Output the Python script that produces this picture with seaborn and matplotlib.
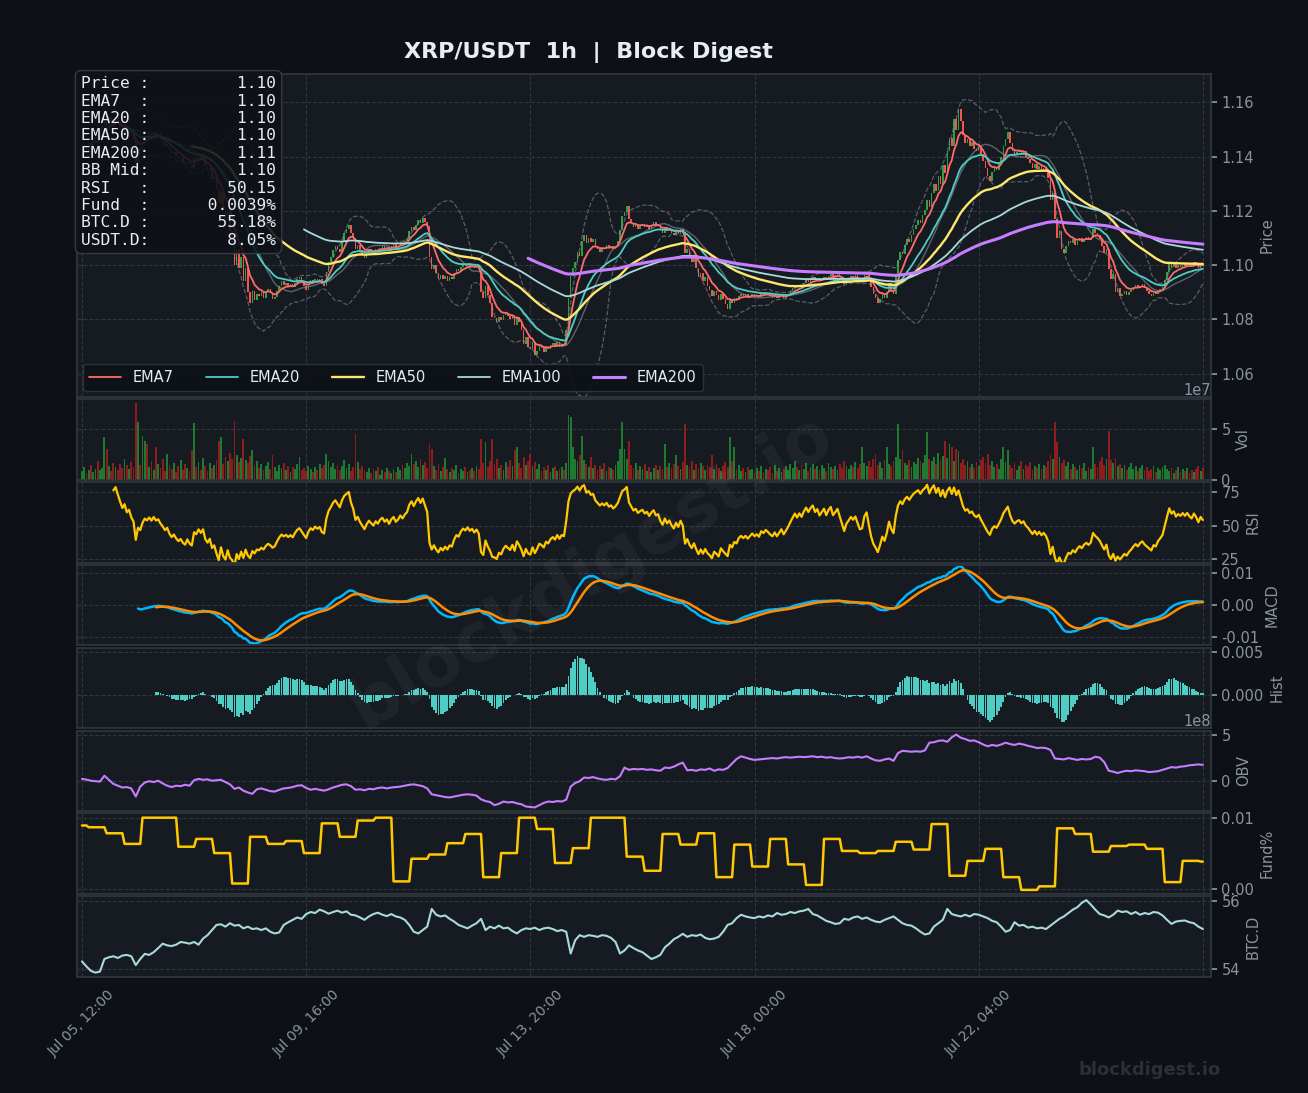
import numpy as np
import pandas as pd
import matplotlib
matplotlib.use("Agg")
import matplotlib.pyplot as plt
import seaborn as sns

# ---- values: XRP/USDT, 1h bars starting Jul 05 12:00 ----
start_time = "2024-07-05 12:00"

close_px = [
    1.1420, 1.1435, 1.1420, 1.1450, 1.1438, 1.1458, 1.1480, 1.1462, 1.1490, 1.1512, 1.1530, 1.1515, 1.1545, 1.1530, 1.1520, 1.1546, 1.1528, 1.1510, 1.1492, 1.1512, 1.1488, 1.1500, 1.1476, 1.1462, 1.1380,
    1.1432, 1.1420, 1.1455, 1.1478, 1.1470, 1.1485, 1.1472, 1.1490, 1.1476, 1.1482, 1.1466, 1.1455, 1.1440, 1.1448, 1.1425, 1.1410, 1.1418, 1.1402, 1.1390, 1.1396, 1.1380, 1.1372, 1.1385, 1.1368, 1.1360,
    1.1395, 1.1388, 1.1402, 1.1390, 1.1400, 1.1365, 1.1350, 1.1360, 1.1318, 1.1325, 1.1280, 1.1230, 1.1270, 1.1200, 1.1165, 1.1200, 1.1125, 1.1095, 1.1000, 1.1060, 1.0990, 1.1030, 1.0940, 1.0990, 1.0900,
    1.0860, 1.0905, 1.0870, 1.0895, 1.0885, 1.0900, 1.0880, 1.0900, 1.0912, 1.0898, 1.0875, 1.0882, 1.0905, 1.0925, 1.0940, 1.0928, 1.0935, 1.0922, 1.0930, 1.0918, 1.0935, 1.0948, 1.0955, 1.0940, 1.0925,
    1.0910, 1.0932, 1.0945, 1.0938, 1.0950, 1.0942, 1.0948, 1.0930, 1.0925, 1.0975, 1.1010, 1.1030, 1.1055, 1.1070, 1.1060, 1.1050, 1.1090, 1.1120, 1.1135, 1.1150, 1.1120, 1.1100, 1.1060, 1.1075, 1.1055,
    1.1040, 1.1025, 1.1045, 1.1060, 1.1050, 1.1042, 1.1058, 1.1050, 1.1065, 1.1072, 1.1060, 1.1068, 1.1055, 1.1070, 1.1078, 1.1065, 1.1072, 1.1085, 1.1078, 1.1090, 1.1098, 1.1125, 1.1140, 1.1130, 1.1150,
    1.1165, 1.1155, 1.1175, 1.1160, 1.1145, 1.1030, 1.0985, 1.1000, 1.0970, 1.0950, 1.0965, 1.0948, 1.0960, 1.0942, 1.0955, 1.0948, 1.0970, 1.0985, 1.0978, 1.0995, 1.1005, 1.0998, 1.1008, 1.0996, 1.1002,
    1.0990, 1.0998, 1.0985, 1.0900, 1.0880, 1.0925, 1.0890, 1.0860, 1.0810, 1.0805, 1.0790, 1.0810, 1.0798, 1.0815, 1.0825, 1.0812, 1.0800, 1.0815, 1.0780, 1.0810, 1.0790, 1.0760, 1.0710, 1.0735, 1.0700,
    1.0690, 1.0715, 1.0670, 1.0685, 1.0705, 1.0695, 1.0680, 1.0700, 1.0690, 1.0705, 1.0712, 1.0700, 1.0715, 1.0698, 1.0710, 1.0705, 1.0760, 1.0880, 1.0960, 1.0990, 1.1010, 1.1050, 1.1035, 1.1090, 1.1110,
    1.1080, 1.1100, 1.1085, 1.1095, 1.1070, 1.1060, 1.1050, 1.1065, 1.1058, 1.1075, 1.1062, 1.1070, 1.1060, 1.1072, 1.1090, 1.1130, 1.1180, 1.1195, 1.1220, 1.1170, 1.1155, 1.1140, 1.1150, 1.1135, 1.1145,
    1.1152, 1.1140, 1.1148, 1.1135, 1.1150, 1.1160, 1.1145, 1.1150, 1.1130, 1.1118, 1.1140, 1.1125, 1.1135, 1.1120, 1.1110, 1.1128, 1.1115, 1.1135, 1.1120, 1.1045, 1.1060, 1.1030, 1.1010, 1.1025, 1.0990,
    1.0955, 1.0970, 1.0940, 1.0955, 1.0925, 1.0910, 1.0885, 1.0905, 1.0890, 1.0870, 1.0895, 1.0875, 1.0858, 1.0840, 1.0875, 1.0860, 1.0878, 1.0870, 1.0888, 1.0895, 1.0885, 1.0892, 1.0880, 1.0888, 1.0895,
    1.0885, 1.0890, 1.0882, 1.0896, 1.0890, 1.0898, 1.0892, 1.0885, 1.0880, 1.0888, 1.0878, 1.0885, 1.0892, 1.0880, 1.0887, 1.0895, 1.0905, 1.0915, 1.0925, 1.0918, 1.0928, 1.0922, 1.0935, 1.0945, 1.0938,
    1.0948, 1.0955, 1.0945, 1.0952, 1.0942, 1.0950, 1.0958, 1.0948, 1.0960, 1.0968, 1.0955, 1.0962, 1.0970, 1.0958, 1.0945, 1.0930, 1.0945, 1.0952, 1.0960, 1.0955, 1.0962, 1.0950, 1.0938, 1.0940, 1.0965,
    1.0975, 1.0950, 1.0920, 1.0895, 1.0880, 1.0860, 1.0875, 1.0895, 1.0880, 1.0900, 1.0935, 1.0910, 1.0895, 1.0960, 1.1020, 1.1050, 1.1040, 1.1075, 1.1095, 1.1085, 1.1110, 1.1135, 1.1150, 1.1165, 1.1155,
    1.1185, 1.1205, 1.1240, 1.1215, 1.1265, 1.1300, 1.1275, 1.1330, 1.1300, 1.1370, 1.1340, 1.1420, 1.1470, 1.1440, 1.1540, 1.1500, 1.1575, 1.1530, 1.1480, 1.1450, 1.1465, 1.1440, 1.1455, 1.1430, 1.1420,
    1.1438, 1.1410, 1.1385, 1.1360, 1.1330, 1.1310, 1.1345, 1.1360, 1.1350, 1.1375, 1.1400, 1.1440, 1.1465, 1.1490, 1.1450, 1.1420, 1.1405, 1.1418, 1.1425, 1.1410, 1.1420, 1.1400, 1.1390, 1.1375, 1.1360,
    1.1372, 1.1355, 1.1365, 1.1350, 1.1358, 1.1345, 1.1320, 1.1240, 1.1265, 1.1170, 1.1100, 1.1125, 1.1060, 1.1045, 1.1070, 1.1090, 1.1080, 1.1095, 1.1075, 1.1090, 1.1100, 1.1085, 1.1098, 1.1105, 1.1092,
    1.1100, 1.1135, 1.1120, 1.1110, 1.1095, 1.1070, 1.1045, 1.1060, 1.0985, 1.0950, 1.0968, 1.0900, 1.0915, 1.0885, 1.0895, 1.0905, 1.0890, 1.0902, 1.0910, 1.0920, 1.0928, 1.0915, 1.0925, 1.0930, 1.0915,
    1.0905, 1.0895, 1.0885, 1.0898, 1.0892, 1.0905, 1.0912, 1.0920, 1.0945, 1.0975, 1.1010, 1.0995, 1.1005, 1.0990, 1.1000, 1.0995, 1.1005, 1.0998, 1.1008, 1.1000, 1.0995, 1.1010, 1.1002, 1.0990, 1.1005,
    1.0998,
]

# hourly volume, millions of XRP
vol_m = [
    8, 12, 6, 9, 14, 7, 10, 18, 9, 11, 42, 30, 13, 8, 16, 12, 9, 15, 11, 20, 14, 10, 17, 12, 75,
    56, 14, 43, 38, 35, 12, 18, 9, 32, 15, 11, 20, 8, 25, 14, 10, 16, 7, 13, 19, 9, 15, 11, 8, 29,
    55, 12, 17, 9, 21, 13, 8, 16, 11, 14, 19, 38, 42, 15, 22, 18, 26, 20, 57, 24, 17, 21, 40, 19, 16,
    23, 29, 14, 18, 11, 15, 9, 13, 17, 10, 24, 12, 8, 14, 11, 16, 9, 13, 7, 12, 10, 15, 22, 9, 11,
    8, 13, 10, 7, 12, 9, 15, 11, 14, 25, 18, 12, 16, 10, 14, 9, 13, 19, 11, 15, 8, 12, 45, 17, 10,
    13, 9, 7, 11, 6, 10, 8, 12, 5, 9, 7, 11, 8, 6, 10, 7, 12, 9, 14, 11, 16, 13, 25, 15, 18,
    12, 20, 14, 17, 11, 35, 30, 13, 9, 15, 8, 12, 21, 10, 7, 11, 9, 14, 6, 10, 8, 12, 7, 9, 11,
    8, 13, 10, 40, 16, 37, 12, 18, 40, 15, 20, 11, 14, 9, 17, 12, 19, 13, 29, 32, 16, 11, 22, 14, 18,
    25, 13, 17, 10, 15, 8, 12, 9, 14, 7, 11, 13, 8, 10, 12, 9, 16, 63, 61, 32, 20, 18, 24, 43, 19,
    15, 12, 22, 11, 14, 9, 13, 10, 16, 8, 12, 11, 9, 14, 18, 30, 56, 30, 20, 38, 14, 11, 16, 9, 13,
    10, 15, 8, 12, 7, 11, 14, 9, 13, 10, 35, 12, 16, 11, 15, 24, 13, 10, 17, 54, 14, 12, 18, 9, 15,
    11, 16, 13, 9, 14, 12, 24, 10, 15, 11, 8, 13, 17, 12, 42, 18, 32, 10, 14, 8, 11, 7, 12, 9, 10,
    6, 11, 8, 13, 7, 10, 9, 12, 6, 14, 8, 11, 7, 10, 13, 9, 15, 11, 18, 12, 9, 14, 10, 16, 8,
    12, 15, 10, 13, 9, 14, 11, 8, 16, 12, 10, 13, 9, 15, 11, 18, 13, 10, 14, 12, 17, 11, 15, 32, 16,
    13, 18, 12, 20, 25, 14, 17, 11, 19, 32, 15, 13, 18, 22, 54, 20, 29, 16, 14, 19, 12, 17, 15, 21, 18,
    16, 24, 47, 20, 18, 22, 15, 26, 19, 23, 38, 21, 35, 32, 18, 30, 28, 16, 20, 14, 18, 12, 15, 11, 17,
    13, 19, 22, 16, 25, 14, 18, 12, 15, 10, 20, 32, 17, 29, 14, 11, 16, 9, 13, 18, 10, 14, 12, 17, 9,
    13, 11, 15, 10, 14, 12, 18, 24, 20, 56, 37, 22, 16, 19, 13, 17, 10, 15, 12, 9, 14, 11, 16, 8, 12,
    10, 32, 15, 12, 18, 22, 14, 20, 48, 19, 16, 21, 13, 15, 11, 14, 9, 12, 16, 10, 13, 8, 11, 14, 9,
    12, 8, 10, 13, 7, 11, 9, 12, 14, 10, 8, 11, 6, 9, 12, 7, 10, 8, 11, 6, 9, 7, 10, 13, 8,
    11,
]

# OBV every 2 bars, in 1e8
obv_2h = [
    0.20, 0.12, 0.00, -0.05, -0.10, 0.55, 0.10, -0.35, -0.55, -0.75,
    -0.70, -0.85, -1.75, -0.65, -0.20, -0.05, -0.15, 0.00, -0.30, -0.55,
    -0.70, -0.55, -0.60, -0.45, -0.55, 0.05, 0.20, 0.10, 0.15, 0.00,
    0.05, 0.10, -0.15, -0.40, -0.90, -0.75, -1.10, -1.30, -1.45, -0.95,
    -0.85, -1.00, -1.15, -1.20, -1.00, -0.85, -0.80, -0.70, -0.55, -0.50,
    -0.80, -1.00, -0.90, -1.00, -1.10, -0.95, -0.75, -0.60, -0.45, -0.40,
    -0.60, -1.00, -0.95, -1.05, -0.90, -0.95, -0.80, -0.75, -0.85, -0.75,
    -0.70, -0.65, -0.55, -0.45, -0.40, -0.50, -0.60, -0.85, -1.50, -1.60,
    -1.70, -1.80, -1.85, -1.75, -1.65, -1.55, -1.50, -1.55, -1.65, -2.05,
    -2.25, -2.35, -2.70, -2.55, -2.30, -2.40, -2.35, -2.50, -2.60, -2.85,
    -2.90, -2.95, -2.70, -2.45, -2.30, -2.35, -2.25, -2.30, -2.10, -0.65,
    -0.25, -0.05, 0.35, 0.30, 0.40, 0.25, 0.15, 0.10, 0.20, 0.15,
    0.50, 1.45, 1.20, 1.30, 1.25, 1.30, 1.20, 1.25, 1.15, 1.10,
    1.45, 1.40, 1.55, 1.80, 2.00, 1.15, 1.20, 1.10, 1.25, 1.20,
    1.35, 1.10, 1.25, 1.20, 1.40, 1.90, 2.40, 2.70, 2.55, 2.40,
    2.30, 2.35, 2.40, 2.45, 2.50, 2.45, 2.55, 2.60, 2.55, 2.60,
    2.65, 2.60, 2.65, 2.70, 2.60, 2.65, 2.55, 2.60, 2.50, 2.45,
    2.50, 2.60, 2.55, 2.65, 2.55, 2.70, 2.45, 2.25, 2.20, 2.35,
    2.45, 2.20, 3.05, 3.30, 3.25, 3.20, 3.25, 3.20, 3.35, 4.20,
    4.25, 4.40, 4.45, 4.30, 4.80, 5.10, 4.75, 4.60, 4.40, 4.45,
    4.25, 4.00, 3.80, 3.95, 3.85, 4.00, 4.20, 4.05, 3.95, 4.10,
    4.00, 3.85, 3.75, 3.60, 3.65, 3.60, 3.40, 2.45, 2.40, 2.35,
    2.50, 2.40, 2.30, 2.40, 2.35, 2.40, 2.65, 2.55, 2.05, 1.10,
    1.00, 0.85, 1.00, 1.10, 1.05, 1.15, 1.10, 1.05, 0.95, 1.00,
    1.05, 1.20, 1.35, 1.50, 1.45, 1.55, 1.60, 1.70, 1.75, 1.80,
    1.75,
]

# BTC dominance every 2 bars, %
btcd_2h = [
    54.23, 54.08, 53.95, 53.90, 53.93, 54.30, 54.35, 54.38, 54.33, 54.40,
    54.42, 54.38, 54.12, 54.30, 54.45, 54.42, 54.50, 54.62, 54.75, 54.70,
    54.68, 54.72, 54.80, 54.78, 54.75, 54.80, 54.72, 54.90, 55.00, 55.15,
    55.30, 55.32, 55.25, 55.35, 55.28, 55.30, 55.20, 55.25, 55.18, 55.20,
    55.15, 55.20, 55.10, 55.05, 55.08, 55.30, 55.38, 55.45, 55.52, 55.48,
    55.62, 55.68, 55.65, 55.75, 55.70, 55.63, 55.68, 55.72, 55.66, 55.70,
    55.60, 55.58, 55.52, 55.45, 55.55, 55.62, 55.66, 55.60, 55.56, 55.62,
    55.55, 55.52, 55.45, 55.30, 55.10, 55.05, 55.15, 55.25, 55.77, 55.60,
    55.55, 55.58, 55.48, 55.40, 55.30, 55.25, 55.20, 55.28, 55.35, 55.48,
    55.15, 55.25, 55.20, 55.28, 55.20, 55.22, 55.12, 55.05, 55.15, 55.20,
    55.18, 55.22, 55.15, 55.20, 55.22, 55.18, 55.12, 55.15, 55.10, 54.46,
    54.85, 55.00, 54.95, 55.00, 54.98, 54.95, 55.00, 54.98, 54.92, 54.80,
    54.46, 54.55, 54.70, 54.62, 54.55, 54.50, 54.40, 54.30, 54.35, 54.42,
    54.64, 54.75, 54.88, 54.95, 55.04, 54.95, 55.00, 54.98, 55.02, 54.92,
    54.88, 54.90, 54.95, 55.10, 55.30, 55.35, 55.50, 55.60, 55.55, 55.52,
    55.50, 55.55, 55.52, 55.58, 55.55, 55.65, 55.60, 55.62, 55.68, 55.65,
    55.70, 55.72, 55.77, 55.62, 55.58, 55.50, 55.42, 55.38, 55.33, 55.35,
    55.48, 55.45, 55.52, 55.55, 55.48, 55.52, 55.45, 55.40, 55.38, 55.45,
    55.50, 55.55, 55.45, 55.35, 55.30, 55.28, 55.20, 55.10, 55.02, 55.05,
    55.25, 55.35, 55.45, 55.77, 55.62, 55.58, 55.55, 55.60, 55.55, 55.62,
    55.60, 55.55, 55.50, 55.42, 55.38, 55.25, 55.10, 55.15, 55.38, 55.28,
    55.30, 55.22, 55.25, 55.20, 55.22, 55.18, 55.28, 55.38, 55.48, 55.55,
    55.65, 55.75, 55.82, 55.95, 56.03, 55.90, 55.75, 55.62, 55.58, 55.52,
    55.60, 55.72, 55.68, 55.70, 55.62, 55.68, 55.60, 55.65, 55.62, 55.68,
    55.66, 55.58, 55.45, 55.33, 55.40, 55.42, 55.43, 55.38, 55.35, 55.25,
    55.18,
]

# funding rate (%) and how many hourly bars each value holds
fund_vals = [
    0.0090, 0.00875, 0.0079, 0.0064, 0.0101, 0.0101, 0.0060, 0.0071, 0.0051, 0.0008,
    0.0074, 0.0064, 0.0068, 0.0051, 0.0093, 0.0074, 0.0097, 0.0101, 0.0011, 0.0043,
    0.0049, 0.0065, 0.0078, 0.0017, 0.0051, 0.0101, 0.0085, 0.0037, 0.0058, 0.0101,
    0.0101, 0.0046, 0.0026, 0.0078, 0.0063, 0.0079, 0.0017, 0.0063, 0.0032, 0.0071,
    0.0035, 0.0006, 0.0071, 0.0054, 0.0051, 0.0054, 0.0067, 0.0056, 0.0092, 0.0019,
    0.0040, 0.0057, 0.0017, -0.0001, 0.0004, 0.0086, 0.0078, 0.0053, 0.0061, 0.0063,
    0.0057, 0.0010, 0.0040, 0.0039,
]
fund_hours = [3] + [8] * 62 + [2]

info_keys = ["Price", "EMA7", "EMA20", "EMA50", "EMA200", "BB Mid", "RSI", "Fund", "BTC.D", "USDT.D"]
info_vals = ["1.10", "1.10", "1.10", "1.10", "1.11", "1.10", "50.15", "0.0039%", "55.18%", "8.05%"]

ema_spans = [7, 20, 50, 100, 200]
ema_colors = ["#ff6b6b", "#4ecdc4", "#ffe66d", "#a8dadc", "#c77dff"]
ema_widths = [1.3, 1.3, 1.7, 1.3, 2.2]

assert len(close_px) == 501 and len(vol_m) == 501
assert len(obv_2h) == 251 and len(btcd_2h) == 251
assert len(fund_vals) == len(fund_hours) and sum(fund_hours) == 501

# ---- colours ----
BG = "#0d1117"
PANEL = "#161b22"
GRID = "#30363d"
MUTED = "#8b949e"
LIGHT = "#e6edf3"
UP, DN = "#2ea043", "#f0554f"
VUP, VDN = "#1e7a31", "#8f1d1d"
GOLD = "#ffc800"

sns.set_theme(style="darkgrid", rc={
    "axes.facecolor": PANEL, "figure.facecolor": BG, "savefig.facecolor": BG,
    "grid.color": GRID, "grid.linestyle": "--", "grid.linewidth": 0.8,
    "axes.edgecolor": GRID, "axes.labelcolor": MUTED,
    "xtick.color": MUTED, "ytick.color": MUTED, "text.color": LIGHT,
})

# ---- indicators from the close series ----
n = len(close_px)
xs = np.arange(n)
xs2 = np.arange(0, n, 2)
times = pd.date_range(start_time, periods=n, freq="h")

s = pd.Series(close_px)
opn = s.shift(1).fillna(s.iloc[0])
rising = (s >= opn).to_numpy()

emas = []
for span in ema_spans:
    e = s.ewm(span=span).mean()
    e.iloc[:span - 1] = np.nan
    emas.append(e)

bb_mid = s.rolling(20).mean()
bb_sd = s.rolling(20).std(ddof=0)
bb_up = bb_mid + 2 * bb_sd
bb_lo = bb_mid - 2 * bb_sd

d = s.diff()
gain = d.clip(lower=0).ewm(alpha=1 / 14, adjust=False, min_periods=14).mean()
loss = (-d.clip(upper=0)).ewm(alpha=1 / 14, adjust=False, min_periods=14).mean()
rsi = 100 - 100 / (1 + gain / loss)

macd = s.ewm(span=12).mean() - s.ewm(span=26).mean()
macd.iloc[:25] = np.nan
signal = macd.ewm(span=9).mean()
signal.iloc[:33] = np.nan
hist = macd - signal

volume = np.array(vol_m) * 1e6
obv = np.array(obv_2h) * 1e8
fund = np.repeat(fund_vals, fund_hours)


def line(ax, x, y, color, lw, **kw):
    sns.lineplot(x=x, y=y, ax=ax, color=color, linewidth=lw, errorbar=None, **kw)


fig = plt.figure(figsize=(13.08, 10.93), dpi=100)
gs = fig.add_gridspec(8, 1, height_ratios=[4, 1, 1, 1, 1, 1, 1, 1],
                      left=0.0589, right=0.9258, top=0.9323, bottom=0.1061, hspace=0.02)
ax0 = fig.add_subplot(gs[0])
axs = [ax0] + [fig.add_subplot(gs[k], sharex=ax0) for k in range(1, 8)]
ax_p, ax_v, ax_r, ax_m, ax_h, ax_o, ax_f, ax_b = axs

# price panel
ax_p.bar(xs, (s - opn).to_numpy(), bottom=opn.to_numpy(), width=0.7,
         color=np.where(rising, UP, DN), linewidth=0, zorder=2)
line(ax_p, xs, bb_up, MUTED, 0.9, linestyle="--", alpha=0.55)
line(ax_p, xs, bb_lo, MUTED, 0.9, linestyle="--", alpha=0.55)
line(ax_p, xs, bb_mid, MUTED, 1.0, alpha=0.6)
for e, span, c, w in zip(emas, ema_spans, ema_colors, ema_widths):
    line(ax_p, xs, e, c, w, label=f"EMA{span}")
ax_p.set_ylim(1.0515, 1.1705)
ax_p.set_yticks([1.06, 1.08, 1.10, 1.12, 1.14, 1.16])
ax_p.yaxis.set_major_formatter(matplotlib.ticker.FormatStrFormatter("%.2f"))
handles, labels = ax_p.get_legend_handles_labels()
leg = ax_p.legend(handles, labels, loc="lower left", ncol=5, fontsize=10.5,
                  facecolor=BG, edgecolor=GRID, framealpha=0.9,
                  borderaxespad=0.4, handlelength=2.2, columnspacing=2.2)
for t in leg.get_texts():
    t.set_color(LIGHT)

info = "\n".join(f"{k:<6}:{v:>13}" for k, v in zip(info_keys, info_vals))
ax_p.text(0.0035, 0.993, info, transform=ax_p.transAxes, ha="left", va="top",
          family="DejaVu Sans Mono", fontsize=11.7, linespacing=1.2, color=LIGHT, zorder=20,
          bbox=dict(boxstyle="round,pad=0.35", facecolor=BG, edgecolor="#3a4049", alpha=0.88))

# volume
ax_v.bar(xs, volume, width=0.8, color=np.where(rising, VUP, VDN), linewidth=0)
ax_v.set_ylim(0, 7.9e7)
ax_v.set_yticks([0, 5e7])

# RSI
line(ax_r, xs, rsi, GOLD, 1.6)
ax_r.set_ylim(22.7, 82.6)
ax_r.set_yticks([25, 50, 75])

# MACD
line(ax_m, xs, macd, "#00b7ff", 1.8)
line(ax_m, xs, signal, "#ff8c00", 1.8)
ax_m.set_ylim(-0.0127, 0.0127)
ax_m.set_yticks([-0.01, 0.0, 0.01])
ax_m.yaxis.set_major_formatter(matplotlib.ticker.FormatStrFormatter("%.2f"))

# histogram
ax_h.bar(xs, np.nan_to_num(hist.to_numpy()), width=0.8, color="#4ecdc4", linewidth=0)
ax_h.set_ylim(-0.00395, 0.00555)
ax_h.set_yticks([0.0, 0.005])
ax_h.yaxis.set_major_formatter(matplotlib.ticker.FormatStrFormatter("%.3f"))

# OBV
line(ax_o, xs2, obv, "#c77dff", 1.5)
ax_o.set_ylim(-3.37e8, 5.54e8)
ax_o.set_yticks([0, 5e8])

# funding
line(ax_f, xs, fund, GOLD, 1.8)
ax_f.set_ylim(-0.0007, 0.0107)
ax_f.set_yticks([0.0, 0.01])
ax_f.yaxis.set_major_formatter(matplotlib.ticker.FormatStrFormatter("%.2f"))

# BTC dominance
line(ax_b, xs2, btcd_2h, "#a8dadc", 1.5)
ax_b.set_ylim(53.77, 56.14)
ax_b.set_yticks([54, 56])

panel_names = ["Price", "Vol", "RSI", "MACD", "Hist", "OBV", "Fund%", "BTC.D"]
for ax, name in zip(axs, panel_names):
    ax.set_facecolor(PANEL)
    ax.yaxis.tick_right()
    ax.yaxis.set_label_position("right")
    ax.set_ylabel(name, fontsize=10.5, color=MUTED)
    ax.set_xlabel("")
    ax.tick_params(axis="y", colors=MUTED, labelsize=10.5, length=4, right=True, left=False)
    ax.tick_params(axis="x", colors=MUTED, length=0, labelbottom=False)
    ax.yaxis.get_offset_text().set_color(MUTED)
    ax.yaxis.get_offset_text().set_fontsize(10.5)
    ax.grid(True, color=GRID, linestyle="--", linewidth=0.8)
    for sp in ax.spines.values():
        sp.set_color(GRID)
    if ax is not ax_p and ax.get_legend() is not None:
        ax.get_legend().remove()

tick_pos = np.arange(0, n, 100)
tick_txt = [times[i].strftime("%b %d, %H:%M") for i in tick_pos]
tick_txt[-1] = ""
ax_p.set_xlim(-2.2, 503.6)
ax_p.set_xticks(tick_pos)
ax_b.tick_params(axis="x", length=4, labelbottom=True, labelsize=10, colors=MUTED)
ax_b.set_xticklabels(tick_txt, rotation=45)

fig.text(0.45, 0.952, "XRP/USDT  1h  |  Block Digest", ha="center", va="center",
         fontsize=16, fontweight="bold", color=LIGHT)
fig.text(0.451, 0.478, "blockdigest.io", ha="center", va="center", rotation=31,
         fontsize=50, fontweight="bold", color="white", alpha=0.045)
fig.text(0.879, 0.021, "blockdigest.io", ha="center", va="center",
         fontsize=13, fontweight="bold", color="#2a3038")

fig.savefig("out.png", dpi=100, facecolor=BG)
